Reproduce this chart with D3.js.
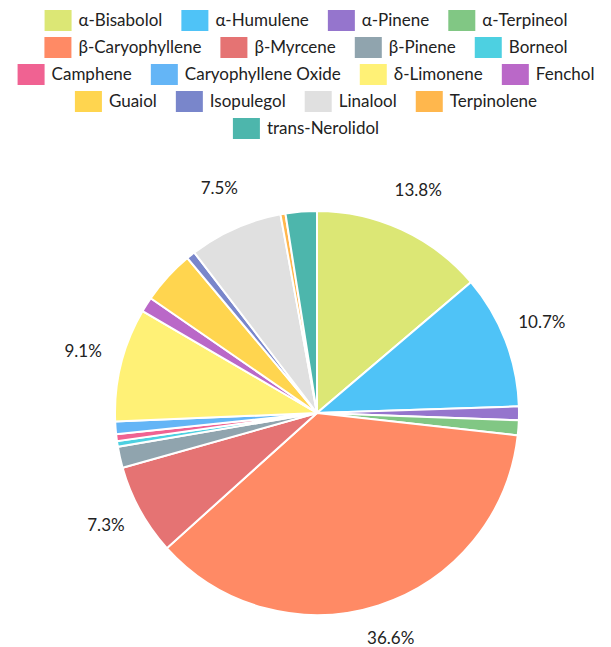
<!DOCTYPE html>
<html>
<head>
<meta charset="utf-8">
<script src="https://cdn.jsdelivr.net/npm/d3@7"></script>
<style>
  body { margin: 0; background: #fff; }
  text { font-family: Lato, sans-serif; fill: #222; }
</style>
</head>
<body>
<svg id="chart" width="611" height="647"></svg>
<script>
// terpene names, in slice order (clockwise from 12 o'clock)
const terpenes = ["α-Bisabolol", "α-Humulene", "α-Pinene", "α-Terpineol", "β-Caryophyllene",
  "β-Myrcene", "β-Pinene", "Borneol", "Camphene", "Caryophyllene Oxide", "δ-Limonene",
  "Fenchol", "Guaiol", "Isopulegol", "Linalool", "Terpinolene", "trans-Nerolidol"];

// share of each terpene, percent
const shares = [13.8, 10.7, 1.1, 1.2, 36.6, 7.3, 1.7, 0.45, 0.55, 1.0, 9.1, 1.2, 4.3, 0.7, 7.5, 0.4, 2.5];

const colours = ["#dce775", "#4fc3f7", "#9575cd", "#81c784", "#ff8a65", "#e57373", "#90a4ae",
  "#4dd0e1", "#f06292", "#64b5f6", "#fff176", "#ba68c8", "#ffd54f", "#7986cb", "#e0e0e0",
  "#ffb74d", "#4db6ac"];

// how many legend entries sit on each row
const legendRows = [4, 4, 4, 4, 1];

const data = terpenes.map((name, i) => ({ name: name, value: shares[i] }));
const total = d3.sum(shares);

const svg = d3.select("#chart");
const color = d3.scaleOrdinal().domain(terpenes).range(colours);

// legend
const legend = svg.append("g");
const boxW = 27, boxH = 21, boxGap = 7, itemGap = 19, rowH = 27, legendCx = 306, legendTop = 10;
let idx = 0;
legendRows.forEach((count, r) => {
  const row = legend.append("g");
  let x = 0;
  for (let k = 0; k < count; k++, idx++) {
    const name = terpenes[idx];
    const item = row.append("g").attr("transform", `translate(${x},0)`);
    item.append("rect")
      .attr("width", boxW).attr("height", boxH)
      .attr("fill", color(name));
    const t = item.append("text")
      .attr("x", boxW + boxGap).attr("y", boxH / 2)
      .attr("dy", "0.35em")
      .style("font-size", "17px")
      .text(name);
    x += boxW + boxGap + t.node().getComputedTextLength() + itemGap;
  }
  const rowW = x - itemGap;
  row.attr("transform", `translate(${legendCx - rowW / 2},${legendTop + r * rowH})`);
});

// pie
const cx = 317, cy = 413, radius = 202;
const g = svg.append("g").attr("transform", `translate(${cx},${cy})`);

const pie = d3.pie().value(d => d.value).sort(null);
const arc = d3.arc().innerRadius(0).outerRadius(radius);
const labelArc = d3.arc().innerRadius(241).outerRadius(241);

const arcs = pie(data);

g.selectAll("path")
  .data(arcs)
  .enter()
  .append("path")
    .attr("d", arc)
    .attr("fill", d => color(d.data.name))
    .attr("stroke", "#fff")
    .attr("stroke-width", 2);

// percentage labels only on the bigger slices
g.selectAll("text.pct")
  .data(arcs.filter(d => d.data.value / total > 0.05))
  .enter()
  .append("text")
    .attr("class", "pct")
    .attr("transform", d => `translate(${labelArc.centroid(d)})`)
    .attr("text-anchor", "middle")
    .attr("dy", "0.1em")
    .style("font-size", "17px")
    .text(d => (d.data.value / total * 100).toFixed(1) + "%");
</script>
</body>
</html>
